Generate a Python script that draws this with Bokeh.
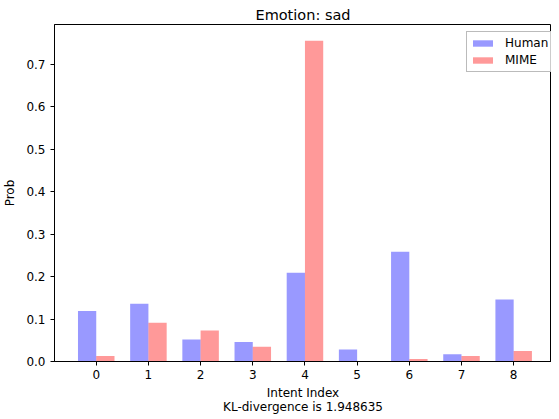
from bokeh.plotting import figure
from bokeh.models import Range1d, FixedTicker, PrintfTickFormatter, Legend, LegendItem
from bokeh.embed import file_html
from bokeh.resources import INLINE

intents = [0, 1, 2, 3, 4, 5, 6, 7, 8]
human = [0.119, 0.136, 0.052, 0.046, 0.209, 0.028, 0.258, 0.017, 0.146]
mime = [0.013, 0.091, 0.073, 0.035, 0.755, 0.0, 0.006, 0.013, 0.025]
y_ticks = [0.0, 0.1, 0.2, 0.3, 0.4, 0.5, 0.6, 0.7]
title_text = "Emotion: sad"
x_label = "Intent Index"
kl_text = "KL-divergence is 1.948635"

bar_w = 0.35
FONT = "DejaVu Sans"

p = figure(width=551, height=419, output_backend="svg", toolbar_location=None,
           x_range=Range1d(-0.8, 8.725), y_range=Range1d(0, 0.793),
           min_border_left=45, min_border_right=0, min_border_top=24, min_border_bottom=58)
p.title.text = title_text
p.title.align = "center"
p.title.text_font = FONT
p.title.text_font_size = "14.5px"
p.title.text_font_style = "normal"
p.title.text_color = "black"
p.title.standoff = 4
p.grid.visible = False
p.background_fill_color = "white"
p.border_fill_color = "white"
p.outline_line_color = "black"
p.outline_line_width = 1

hx = [i - bar_w / 2 for i in intents]
mx = [i + bar_w / 2 for i in intents]
r1 = p.vbar(x=hx, top=human, width=bar_w, bottom=0, fill_color="blue", fill_alpha=0.4, line_color=None)
r2 = p.vbar(x=mx, top=mime, width=bar_w, bottom=0, fill_color="red", fill_alpha=0.4, line_color=None)

for ax in (p.xaxis[0], p.yaxis[0]):
    ax.axis_line_color = "black"
    ax.major_tick_line_color = "black"
    ax.major_tick_out = 4
    ax.major_tick_in = 0
    ax.minor_tick_line_color = None
    ax.major_label_text_font = FONT
    ax.major_label_text_font_size = "12px"
    ax.major_label_text_color = "black"
    ax.axis_label_text_font = FONT
    ax.axis_label_text_font_size = "12px"
    ax.axis_label_text_font_style = "normal"
    ax.axis_label_text_color = "black"

p.xaxis.ticker = FixedTicker(ticks=intents)
p.xaxis.major_label_standoff = 4
p.xaxis.axis_label = x_label + "\n" + kl_text
p.xaxis.axis_label_standoff = 4
p.xaxis.axis_label_text_line_height = 1.05

p.yaxis.ticker = FixedTicker(ticks=y_ticks)
p.yaxis.formatter = PrintfTickFormatter(format="%.1f")
p.yaxis.major_label_standoff = 5
p.yaxis.axis_label = "Prob"
p.yaxis.axis_label_standoff = 6

legend = Legend(items=[LegendItem(label="Human", renderers=[r1]),
                       LegendItem(label="MIME", renderers=[r2])],
                location=(412, 289), margin=0, padding=3, spacing=1,
                glyph_width=25, glyph_height=8, label_height=16, label_width=50,
                label_standoff=10,
                label_text_font=FONT, label_text_font_size="12px", label_text_color="black",
                border_line_color="#bbbbbb", border_line_alpha=1.0, border_line_width=1,
                background_fill_color="white", background_fill_alpha=0.8)
p.add_layout(legend)

open("out.html", "w").write(file_html(p, INLINE))
